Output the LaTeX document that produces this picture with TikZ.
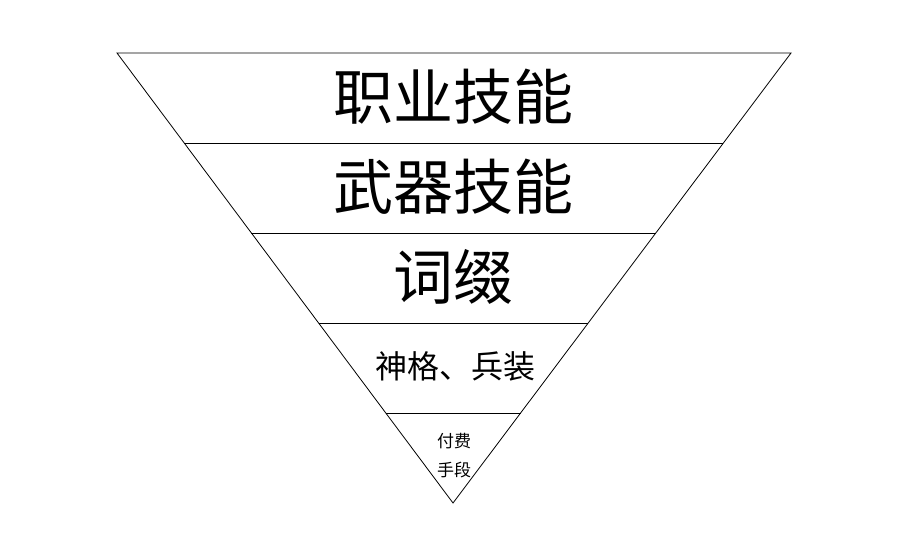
\documentclass[tikz,border=0pt]{standalone}
\usepackage{fontspec}
\newfontfamily\cjk{Noto Sans CJK SC}
\usetikzlibrary{calc}
\begin{document}
\begin{tikzpicture}[x=1pt,y=-1pt,
  edge/.style={draw=black,line width=0.8pt},
  lbl/.style={font=\cjk,inner sep=0pt,text=black}]
\useasboundingbox[fill=white] (0,0) rectangle (915,535);
\coordinate (L) at (117,53);
\coordinate (R) at (791,53);
\coordinate (A) at (453,503);
\draw[edge] (L) -- (R) -- (A) -- cycle;
\foreach \t in {0.2,0.4,0.6,0.8}{
  \draw[edge] ($(L)!\t!(A)$) -- ($(R)!\t!(A)$);
}
\node[lbl,font=\cjk\fontsize{60}{60}\selectfont] (t1) at (453,97) {职业技能};
\node[lbl,font=\cjk\fontsize{60}{60}\selectfont] (t2) at (453,187) {武器技能};
\node[lbl,font=\cjk\fontsize{60}{60}\selectfont] (t3) at (453,277) {词缀};
\node[lbl,font=\cjk\fontsize{32}{32}\selectfont] (t4) at (455,366) {神格、兵装};
\node[lbl,font=\cjk\fontsize{17}{17}\selectfont] (t5a) at (454,441) {付费};
\node[lbl,font=\cjk\fontsize{17}{17}\selectfont] (t5b) at (454,470) {手段};
\end{tikzpicture}
\end{document}
